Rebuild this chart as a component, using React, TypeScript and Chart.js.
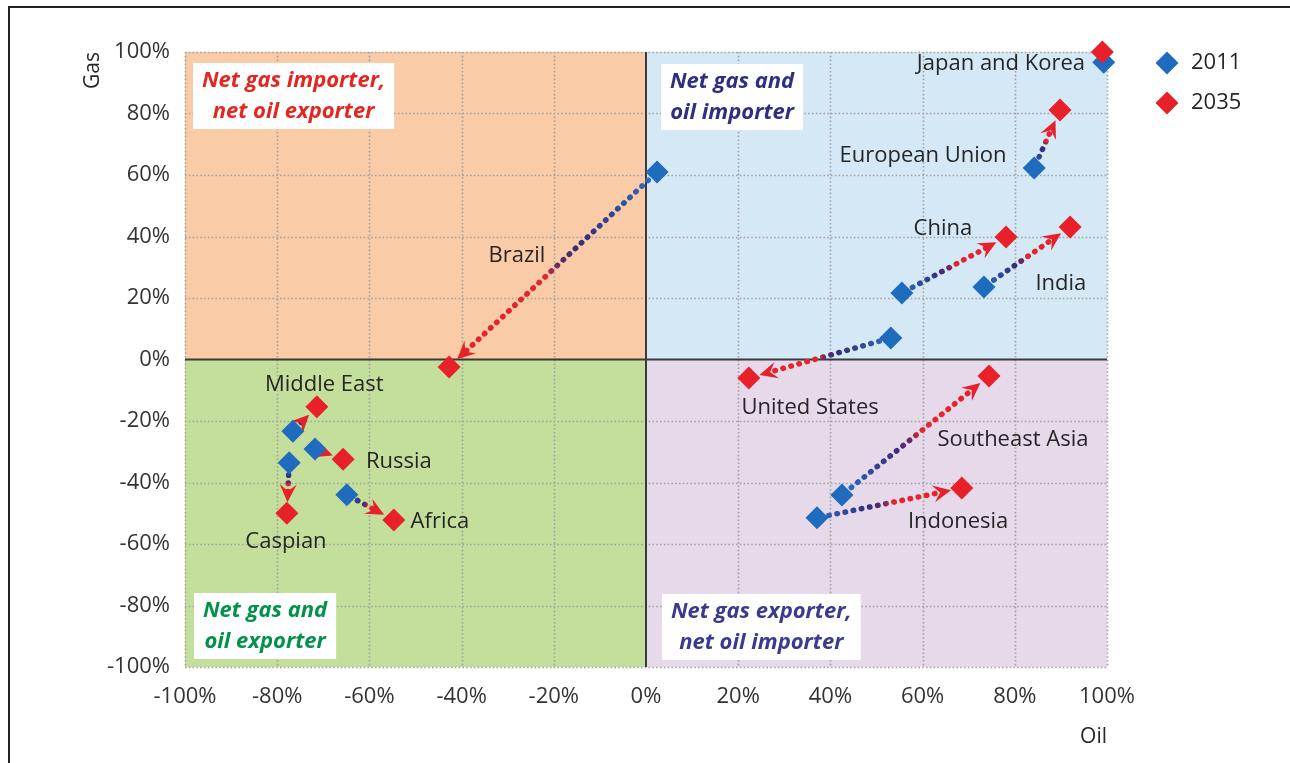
import React, { useEffect, useRef } from "react";
import { Chart, registerables } from "chart.js";

Chart.register(...registerables);

const FONT = "'Open Sans', 'Noto Sans', sans-serif";

// ---- data (percent) ----
const regions = [
  "Japan and Korea",
  "European Union",
  "China",
  "India",
  "United States",
  "Brazil",
  "Southeast Asia",
  "Indonesia",
  "Middle East",
  "Russia",
  "Caspian",
  "Africa",
];
const oil2011 = [99.3, 84.2, 55.5, 73.3, 53.1, 2.4, 42.5, 37.1, -76.6, -71.8, -77.4, -64.9];
const gas2011 = [96.7, 62.3, 21.6, 23.6, 7.0, 61.0, -44.1, -51.5, -23.3, -29.1, -33.6, -44.0];
const oil2035 = [99.0, 89.8, 78.1, 92.0, 22.3, -42.7, 74.4, 68.5, -71.4, -65.7, -77.9, -54.7];
const gas2035 = [100.0, 81.1, 39.8, 43.1, -6.0, -2.4, -5.4, -41.8, -15.4, -32.4, -50.0, -52.2];

// where each region's name sits (oil %, gas %)
const labelOil = [77.0, 60.1, 64.4, 90.0, 35.6, -28.0, 79.6, 67.7, -69.8, -53.6, -78.1, -44.7];
const labelGas = [96.1, 66.2, 42.4, 24.6, -15.8, 33.7, -26.2, -52.8, -8.3, -33.3, -59.3, -52.8];

const seriesNames = ["2011", "2035"];
const seriesColors = ["#1F6BBE", "#E8202A"];

const axisMin = -100;
const axisMax = 100;
const axisStep = 20;
const xTitle = "Oil";
const yTitle = "Gas";

const quadrantText = [
  ["Net gas importer,", "net oil exporter"],
  ["Net gas and", "oil importer"],
  ["Net gas and", "oil exporter"],
  ["Net gas exporter,", "net oil importer"],
];
const quadrantTextColors = ["#E3261F", "#2E2E82", "#00924A", "#3A3A8E"];
const quadrantFills = ["#F9CBA6", "#D5E8F6", "#C4DF9B", "#E5D9EA"];

function diamond(ctx: CanvasRenderingContext2D, x: number, y: number, r: number) {
  ctx.beginPath();
  ctx.moveTo(x - r, y);
  ctx.lineTo(x, y - r);
  ctx.lineTo(x + r, y);
  ctx.lineTo(x, y + r);
  ctx.closePath();
  ctx.fill();
}

function drawArrow(ctx: CanvasRenderingContext2D, x0: number, y0: number, x1: number, y1: number) {
  const dx = x1 - x0;
  const dy = y1 - y0;
  const L = Math.hypot(dx, dy);
  if (L < 20) return;
  const ux = dx / L;
  const uy = dy / L;
  const px = -uy;
  const py = ux;
  const tipX = x1 - ux * 11;
  const tipY = y1 - uy * 11;
  const headLen = 18;
  const headW = 8.5;
  const endX = tipX - ux * headLen * 0.6;
  const endY = tipY - uy * headLen * 0.6;
  const sX = x0 + ux * 12;
  const sY = y0 + uy * 12;
  const grad = ctx.createLinearGradient(x0, y0, tipX, tipY);
  grad.addColorStop(0, "#2F73C6");
  grad.addColorStop(0.2, "#2E4A9E");
  grad.addColorStop(0.4, "#3A2C7C");
  grad.addColorStop(0.5, "#6A2A66");
  grad.addColorStop(0.56, "#E22630");
  grad.addColorStop(1, "#E8202A");
  ctx.save();
  ctx.strokeStyle = grad;
  ctx.lineWidth = 5.5;
  ctx.lineCap = "round";
  ctx.setLineDash([0.5, 7.8]);
  ctx.beginPath();
  ctx.moveTo(sX, sY);
  ctx.lineTo(endX, endY);
  ctx.stroke();
  ctx.setLineDash([]);
  ctx.fillStyle = "#E8202A";
  ctx.beginPath();
  ctx.moveTo(tipX, tipY);
  ctx.lineTo(tipX - ux * headLen + px * headW, tipY - uy * headLen + py * headW);
  ctx.lineTo(tipX - ux * headLen * 0.62, tipY - uy * headLen * 0.62);
  ctx.lineTo(tipX - ux * headLen - px * headW, tipY - uy * headLen - py * headW);
  ctx.closePath();
  ctx.fill();
  ctx.restore();
}

const quadPlugin = {
  id: "quadrants",
  beforeDraw(chart: any) {
    const { ctx, chartArea: a, scales } = chart;
    const x0 = scales.x.getPixelForValue(0);
    const y0 = scales.y.getPixelForValue(0);
    ctx.save();
    const rects = [
      [a.left, a.top, x0 - a.left, y0 - a.top],
      [x0, a.top, a.right - x0, y0 - a.top],
      [a.left, y0, x0 - a.left, a.bottom - y0],
      [x0, y0, a.right - x0, a.bottom - y0],
    ];
    rects.forEach((r, i) => {
      ctx.fillStyle = quadrantFills[i];
      ctx.fillRect(r[0], r[1], r[2], r[3]);
    });
    ctx.restore();
  },
  beforeDatasetsDraw(chart: any) {
    const { ctx, chartArea: a, scales } = chart;
    const xs = scales.x;
    const ys = scales.y;
    const x0 = xs.getPixelForValue(0);
    const y0 = ys.getPixelForValue(0);
    ctx.save();
    // dotted grid from the scales' ticks
    ctx.strokeStyle = "#A2A2A2";
    ctx.lineWidth = 1.6;
    ctx.setLineDash([1.6, 2.2]);
    ctx.beginPath();
    xs.ticks.forEach((t: any) => {
      if (t.value === 0) return;
      const p = Math.round(xs.getPixelForValue(t.value)) + 0.5;
      ctx.moveTo(p, a.top);
      ctx.lineTo(p, a.bottom);
    });
    ys.ticks.forEach((t: any) => {
      if (t.value === 0) return;
      const p = Math.round(ys.getPixelForValue(t.value)) + 0.5;
      ctx.moveTo(a.left, p);
      ctx.lineTo(a.right, p);
    });
    ctx.stroke();
    ctx.setLineDash([]);

    // zero axes
    ctx.strokeStyle = "#3A3A3A";
    ctx.lineWidth = 2;
    ctx.beginPath();
    ctx.moveTo(x0, a.top);
    ctx.lineTo(x0, a.bottom);
    ctx.moveTo(a.left, y0);
    ctx.lineTo(a.right, y0);
    ctx.stroke();

    // quadrant captions
    ctx.font = `italic bold 22px ${FONT}`;
    ctx.textAlign = "center";
    ctx.textBaseline = "middle";
    const pad = 9;
    const boxH = 66;
    const anchors = [
      { left: a.left + 8, top: a.top + 11 },
      { left: x0 + 15, top: a.top + 12 },
      { left: a.left + 9, top: a.bottom - 8 - boxH },
      { left: x0 + 16, top: a.bottom - 7 - boxH },
    ];
    quadrantText.forEach((lines, i) => {
      const w = Math.max(...lines.map((l) => ctx.measureText(l).width)) + pad * 2;
      const { left, top } = anchors[i];
      ctx.fillStyle = "#FFFFFF";
      ctx.fillRect(left, top, w, boxH);
      ctx.fillStyle = quadrantTextColors[i];
      lines.forEach((l, j) => {
        ctx.fillText(l, left + w / 2, top + 18 + j * 31);
      });
    });

    // arrows 2011 -> 2035
    regions.forEach((_, i) => {
      drawArrow(
        ctx,
        xs.getPixelForValue(oil2011[i]),
        ys.getPixelForValue(gas2011[i]),
        xs.getPixelForValue(oil2035[i]),
        ys.getPixelForValue(gas2035[i])
      );
    });
    ctx.restore();
  },
  afterDatasetsDraw(chart: any) {
    const { ctx, chartArea: a, scales } = chart;
    ctx.save();
    ctx.font = `22px ${FONT}`;
    ctx.fillStyle = "#262626";
    ctx.textAlign = "center";
    ctx.textBaseline = "middle";
    regions.forEach((name, i) => {
      ctx.fillText(name, scales.x.getPixelForValue(labelOil[i]), scales.y.getPixelForValue(labelGas[i]));
    });
    // legend
    chart.data.datasets.forEach((ds: any, i: number) => {
      const cy = a.top + 11 + i * 40;
      ctx.fillStyle = ds.backgroundColor;
      diamond(ctx, a.right + 60, cy, 11.5);
      ctx.fillStyle = "#262626";
      ctx.textAlign = "left";
      ctx.fillText(ds.label, a.right + 84, cy);
    });
    ctx.restore();
  },
};

export default function App() {
  const canvasRef = useRef<HTMLCanvasElement | null>(null);

  useEffect(() => {
    if (!canvasRef.current) return;
    const tickFont = { family: FONT, size: 22 };
    const chart = new Chart(canvasRef.current, {
      type: "scatter",
      data: {
        datasets: [
          {
            label: seriesNames[0],
            data: oil2011.map((x, i) => ({ x, y: gas2011[i] })),
            backgroundColor: seriesColors[0],
            borderWidth: 0,
            pointStyle: "rectRot",
            pointRadius: 11.5,
            pointHoverRadius: 11.5,
            clip: false,
            order: 1,
          },
          {
            label: seriesNames[1],
            data: oil2035.map((x, i) => ({ x, y: gas2035[i] })),
            backgroundColor: seriesColors[1],
            borderWidth: 0,
            pointStyle: "rectRot",
            pointRadius: 11.5,
            pointHoverRadius: 11.5,
            clip: false,
            order: 0,
          },
        ],
      },
      options: {
        responsive: false,
        animation: false,
        events: [],
        layout: { padding: { left: 0, top: 52, right: 183, bottom: 0 } },
        plugins: {
          legend: { display: false },
          tooltip: { enabled: false },
        },
        scales: {
          x: {
            type: "linear",
            min: axisMin,
            max: axisMax,
            afterFit: (s: any) => {
              s.height = 96;
            },
            ticks: {
              stepSize: axisStep,
              color: "#333333",
              font: tickFont,
              padding: 17,
              callback: (v: any) => `${v}%`,
            },
            grid: { display: false, drawTicks: false },
            border: { display: false },
            title: {
              display: true,
              text: xTitle,
              align: "end",
              color: "#262626",
              font: { family: FONT, size: 21 },
              padding: { top: 0, bottom: 13 },
            },
          },
          y: {
            type: "linear",
            min: axisMin,
            max: axisMax,
            afterFit: (s: any) => {
              s.width = 185;
            },
            ticks: {
              stepSize: axisStep,
              color: "#333333",
              font: tickFont,
              padding: 15,
              callback: (v: any) => `${v}%`,
            },
            grid: { display: false, drawTicks: false },
            border: { display: false },
            title: {
              display: true,
              text: yTitle,
              align: "end",
              color: "#262626",
              font: { family: FONT, size: 21 },
              padding: { top: 80, bottom: 0 },
            },
          },
        },
      },
      plugins: [quadPlugin],
    } as any);
    return () => chart.destroy();
  }, []);

  return (
    <div
      style={{
        position: "fixed",
        left: 0,
        top: 0,
        width: 1290,
        height: 763,
        background: "#FFFFFF",
        overflow: "hidden",
      }}
    >
      <div
        style={{
          position: "absolute",
          left: 8,
          top: 6,
          width: 1400,
          height: 900,
          borderTop: "2px solid #222",
          borderLeft: "2px solid #222",
        }}
      />
      <canvas ref={canvasRef} width={1290} height={763} style={{ position: "absolute", left: 0, top: 0 }} />
    </div>
  );
}
